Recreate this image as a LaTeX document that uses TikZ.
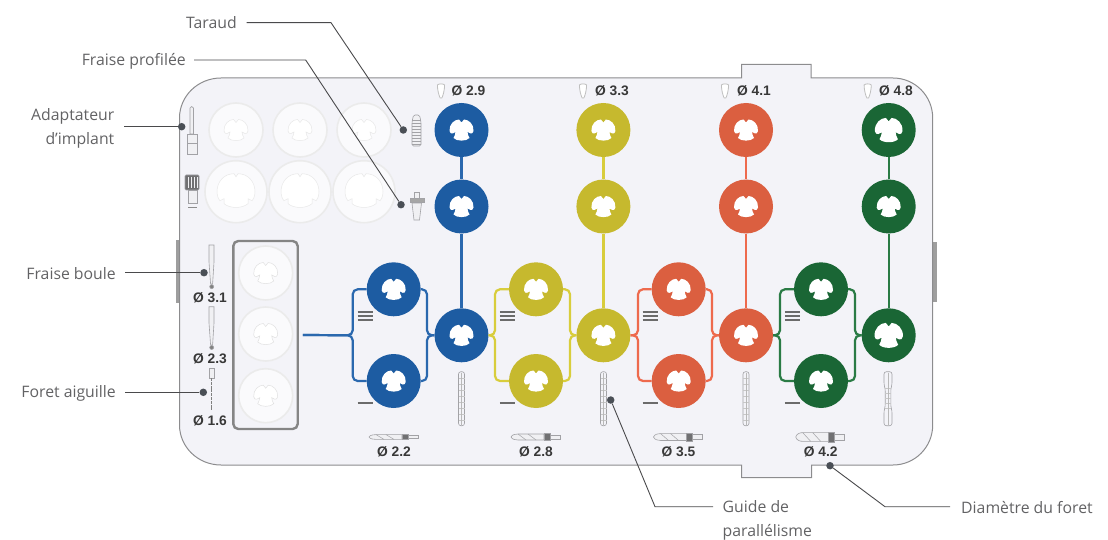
\documentclass[tikz,border=0pt]{standalone}
\usepackage{fontspec}
\setmainfont{Open Sans}
\newfontfamily\dimfont{Liberation Sans}[BoldFont={Liberation Sans Bold}]
\definecolor{trayfill}{HTML}{F3F3F8}
\definecolor{trayline}{HTML}{8C8C8E}
\definecolor{lblcol}{HTML}{626264}
\definecolor{leadcol}{HTML}{4A4A4C}
\definecolor{dotcol}{HTML}{4A4F56}
\definecolor{cblue}{HTML}{1D5CA2}
\definecolor{cyellow}{HTML}{C6B92E}
\definecolor{cred}{HTML}{DB5F40}
\definecolor{cgreen}{HTML}{1A6635}
\definecolor{wblue}{HTML}{2A68AE}
\definecolor{wyellow}{HTML}{D8CD3C}
\definecolor{wred}{HTML}{EE6A4D}
\definecolor{wgreen}{HTML}{2A7B45}
\definecolor{toolgray}{HTML}{A2A2A6}
\definecolor{tooldark}{HTML}{707072}
\definecolor{toolfill}{HTML}{F0F0F3}
\tikzset{
  hub/.style={circle,inner sep=0pt,minimum size=54pt,fill=#1},
  ghost/.style={circle,inner sep=0pt,minimum size=#1,fill=white!60!trayfill,draw=black!8,line width=1.6pt},
  ghost/.default=54pt,
  wire/.style={line width=2.2pt,rounded corners=5pt},
  lbl/.style={font=\fontsize{15.8}{23.5}\selectfont,text=lblcol,inner sep=0pt,align=right},
  dim/.style={font=\dimfont\bfseries\fontsize{13.8}{16}\selectfont,text=black!78,inner sep=0pt},
  lead/.style={draw=leadcol,line width=0.9pt},
  dot/.style={circle,fill=dotcol,inner sep=0pt,minimum size=7.5pt},
  tool/.style={draw=toolgray,fill=toolfill,line width=0.6pt},
  bar/.style={draw=black!58,line width=1.7pt},
  lobe/.pic={\path[pic actions] (0,-7.5) -- (-2.5,-10.5) .. controls (-7,-10.5) and (-12.5,-6) .. (-12,1)
    .. controls (-12,3) and (-10,4) .. (-9,3.5) -- (-6,2) .. controls (-6,4) and (-7,6) .. (-8,8)
    .. controls (-5,11.5) and (5,11.5) .. (8,8) .. controls (7,6) and (6,4) .. (6,2) -- (9,3.5)
    .. controls (10,4) and (12,3) .. (12,1) .. controls (12.5,-6) and (7,-10.5) .. (2.5,-10.5) -- cycle;},
  bigopen/.pic={\path[pic actions] (0,-15) -- (-2,-18) .. controls (-12,-18) and (-19,-10) .. (-19,0)
    .. controls (-19,5) and (-17,8) .. (-16,9) -- (-12,7) -- (-12,12)
    .. controls (-6,17) and (6,17) .. (12,12) -- (12,7) -- (16,9)
    .. controls (17,8) and (19,5) .. (19,0) .. controls (19,-10) and (12,-18) .. (2,-18) -- cycle;},
  tooth/.pic={\draw[draw=black!25,fill=white,line width=0.8pt] (-3.6,-6) .. controls (-2,-7.5) and (2,-7.5) .. (3.6,-6)
    .. controls (3.6,-1) and (2,5) .. (0.8,7) -- (-0.8,7) .. controls (-2,5) and (-3.6,-1) .. (-3.6,-6) -- cycle;},
  drill/.pic={
    \draw[tool] (-25,0) .. controls (-24,-2.6) and (-20,-3) .. (-18,-3) -- (8,-3) -- (8,3) -- (-18,3) .. controls (-20,3) and (-24,2.6) .. (-25,0) -- cycle;
    \draw[toolgray,line width=0.5pt] (-18,-3) -- (-10,3) (-8,-3) -- (0,3);
    \draw[tool,fill=tooldark] (8,-3.4) rectangle (14,3.4);
    \draw[tool] (14,-2) rectangle (24,2);},
  pin/.pic={
    \draw[tool,fill=trayfill,rounded corners=2.4pt] (-3,-27) rectangle (3,27);
    \foreach \q in {-20,-14,...,22} {\draw[black!22,line width=0.5pt] (-3,\q) -- (3,\q);}
    \draw[black!28,line width=0.5pt] (0,-26) -- (0,26);},
  widepin/.pic={
    \draw[tool,fill=trayfill,rounded corners=2.4pt] (-4,-27) -- (4,-27) -- (4,-14) -- (2.8,-10) -- (2.8,8) -- (4,12) -- (4,27) -- (-4,27) -- (-4,12) -- (-2.8,8) -- (-2.8,-10) -- (-4,-14) -- cycle;
    \foreach \q in {-10,-5,...,10} {\draw[black!22,line width=0.5pt] (-3,\q) -- (3,\q);}
    \draw[black!28,line width=0.5pt] (0,-26) -- (0,26);},
}
\newcommand\splitwires[7]{%
  \draw[wire,draw=#1] (#2.west) -| (#6,335.3) -- (#5);
  \draw[wire,draw=#1] (#3.west) -| (#6,335.3) -- (#5);
  \draw[wire,draw=#1] (#2.east) -| (#7,335.3) -- (#4.west);
  \draw[wire,draw=#1] (#3.east) -| (#7,335.3) -- (#4.west);}
\begin{document}
\begin{tikzpicture}[x=1pt,y=-1pt]
\useasboundingbox (0,0) rectangle (1108,540);
% handles
\path[fill=black!38] (175.5,240) rectangle (180,302.5);
\path[fill=black!38] (932,241.5) rectangle (937,302);
% tray
\draw[fill=trayfill,draw=trayline,line width=1pt]
  (221,78) -- (741.5,78) -- (741.5,64.3) -- (811,64.3) -- (811,78) -- (893,78)
  .. controls (915,78) and (932.7,96) .. (932.7,118) -- (932.7,425)
  .. controls (932.7,447) and (915,465) .. (893,465) -- (811.5,465) -- (811.5,477.7)
  -- (741.5,477.7) -- (741.5,465) -- (221,465)
  .. controls (198,465) and (179.5,447) .. (179.5,425) -- (179.5,118)
  .. controls (179.5,96) and (198,78) .. (221,78) -- cycle;
% ghost holders, upper block
\foreach \n/\px/\py/\sz in {ga/236/130/54pt,gb/300/130/54pt,gc/364/130/54pt,gd/236/191.7/62pt,ge/300/191.7/62pt,gf/364/191.7/62pt}
  \node[ghost=\sz] (\n) at (\px,\py) {};
\foreach \n in {ga,gb,gc} \pic[fill=white,draw=black!9,line width=0.5pt] at (\n) {lobe};
\foreach \n in {gd,ge,gf} \pic[fill=white,draw=black!9,line width=0.5pt] at (\n) {bigopen};
% boxed holders
\node[draw=black!48,line width=2.4pt,rounded corners=5pt,inner sep=0pt,minimum width=64.4pt,minimum height=188pt] (pilot) at (265.5,335) {};
\foreach \n/\py in {pa/273,pb/334,pc/395.7} {
  \node[ghost] (\n) at (265.7,\py) {};
  \pic[fill=white,draw=black!12,line width=0.5pt] at (\n) {lobe};
}
% coloured hubs
\foreach \s/\cx/\px/\col in {b/461.5/393.7/cblue,y/603.4/536/cyellow,r/746/678.7/cred,g/888.7/821/cgreen} {
  \node[hub=\col] (\s1) at (\cx,130) {};
  \node[hub=\col] (\s2) at (\cx,206.5) {};
  \node[hub=\col] (\s3) at (\cx,335.3) {};
  \node[hub=\col] (\s4) at (\px,289.3) {};
  \node[hub=\col] (\s5) at (\px,381) {};
}
% wires
\splitwires{wblue}{b4}{b5}{b3}{[xshift=4pt]pilot.east}{352.7}{427}
\splitwires{wyellow}{y4}{y5}{y3}{b3.east}{495}{570}
\splitwires{wred}{r4}{r5}{r3}{y3.east}{638}{712}
\splitwires{wgreen}{g4}{g5}{g3}{r3.east}{780}{855}
\foreach \s/\w in {b/wblue,y/wyellow,r/wred,g/wgreen}
  \draw[line width=2.2pt,draw=\w] (\s1) -- (\s2) -- (\s3);
% openings
\foreach \n in {b1,b2,b3,b4,b5,y1,y2,y3,y4,y5,r1,r2,r3,r4,r5,g2,g4,g5}
  \pic[fill=white] at (\n) {lobe};
\pic[fill=white,scale=1.15] at (g1) {lobe};
\pic[fill=white,scale=1.18] at (g3) {lobe};
% bars
\foreach \px in {365,507.3,650,792.3} {
  \draw[bar] (\px-7.5,312) -- (\px+7.5,312);
  \draw[bar] (\px-7.5,316) -- (\px+7.5,316);
  \draw[bar] (\px-7.5,320) -- (\px+7.5,320);
  \draw[bar] (\px-7.5,402.7) -- (\px+7.5,402.7);
}
% upper dimension labels
\foreach \n/\tx/\ix/\t in {dA/468.5/441/2.9,dB/612/583/3.3,dC/754/725/4.1,dD/896/867.7/4.8} {
  \node[dim] (\n) at (\tx,91) {Ø \t};
  \pic at (\ix,91) {tooth};
}
% lower dimension labels and drills
\foreach \n/\tx/\t/\ys in {dE/394/2.2/0.8,dF/536/2.8/1,dG/678.5/3.5/1.15,dH/820.7/4.2/1.45} {
  \node[dim] (\n) at (\tx,452) {Ø \t};
  \pic[yscale=\ys] at (\tx,437) {drill};
}
% pins
\pic at (461.5,398.7) {pin};
\pic at (603.5,398.7) {pin};
\pic at (746,398.7) {pin};
\pic at (888,398.7) {widepin};
% left column labels
\node[dim] (dI) at (210,298) {Ø 3.1};
\node[dim] (dJ) at (210,359) {Ø 2.3};
\node[dim] (dK) at (210,420.5) {Ø 1.6};
% tools: implant adapters
\draw[tool] (190,108) -- (191.7,106.5) -- (193.5,108) -- (193.5,134) -- (190,134) -- cycle;
\draw[tool] (187.5,134) rectangle (197.5,154);
\draw[toolgray,line width=0.6pt] (187.5,143) -- (197.5,143);
\draw[tool] (188,190) rectangle (197,203);
\draw[tool,fill=tooldark,rounded corners=1pt] (185,175) rectangle (199,190);
\foreach \q in {188,191,194,197} \draw[toolfill,line width=0.5pt] (\q,177) -- (\q,188);
\draw[draw=black!45,line width=1pt] (188,207.7) -- (197,207.7);
% tap
\draw[tool,rounded corners=1.5pt] (412,122) -- (413.5,115) -- (419.5,115) -- (421,122) -- (421,146) -- (412,146) -- cycle;
\foreach \q in {120,123,...,144} \draw[toolgray,line width=0.6pt] (412,\q) -- (421,\q);
% profile drill
\draw[tool] (414.5,192) rectangle (419,199);
\draw[tool] (412,203) -- (414,220) -- (419.5,220) -- (421.5,203) -- cycle;
\draw[tool,fill=black!35] (410,198.5) rectangle (424,202.5);
% ball drills
\draw[tool] (209,245) -- (214,245) -- (214,262) -- (212.6,284) -- (210.6,284) -- (209,262) -- cycle;
\draw[tool,fill=black!50] (211.7,286.7) circle (2pt);
\draw[tool] (209,306.7) -- (214,306.7) -- (214,323) -- (212.6,345) -- (210.6,345) -- (209,323) -- cycle;
\draw[tool,fill=black!50] (211.7,347.5) circle (2pt);
% needle drill
\draw[tool] (209,368.3) rectangle (214,378);
\draw[draw=black!50,line width=1.4pt,dash pattern=on 3pt off 0.8pt] (211.7,378) -- (211.7,410);
% leader anchors
\node[dot] (dotTar) at (403.3,130) {};
\node[dot] (dotPro) at (401,204.7) {};
\node[dot] (dotAda) at (181.7,126.7) {};
\node[dot] (dotBou) at (204,272.7) {};
\node[dot] (dotAig) at (203.3,392.3) {};
\node[dot] (dotGui) at (610.7,400) {};
\node[dot] (dotDia) at (830,465.7) {};
\coordinate (cTarA) at (246.7,22.7); \coordinate (cTarB) at (331,22.7);
\coordinate (cProA) at (194,60); \coordinate (cProB) at (305.7,60);
\coordinate (cAda) at (124.3,126.7);
\coordinate (cBou) at (125,272.7);
\coordinate (cAig) at (125,392.3);
\coordinate (cGuiA) at (713,506.7); \coordinate (cGuiB) at (655,506.7);
\coordinate (cDiaA) at (950,506.7); \coordinate (cDiaB) at (885,506.7);
\draw[lead] (cTarA) -- (cTarB) -- (dotTar);
\draw[lead] (cProA) -- (cProB) -- (dotPro);
\draw[lead] (cAda) -- (dotAda);
\draw[lead] (cBou) -- (dotBou);
\draw[lead] (cAig) -- (dotAig);
\draw[lead] (cGuiA) -- (cGuiB) -- (dotGui);
\draw[lead] (cDiaA) -- (cDiaB) -- (dotDia);
% callout labels
\node[lbl,anchor=east] (lTar) at (237,23) {Taraud};
\node[lbl,anchor=east] (lPro) at (186,61) {Fraise profilée};
\node[lbl,anchor=east] (lAda) at (114.5,128.5) {Adaptateur\\d’implant};
\node[lbl,anchor=east] (lBou) at (116,273.5) {Fraise boule};
\node[lbl,anchor=east] (lAig) at (116,393.5) {Foret aiguille};
\node[lbl,anchor=west,align=left] (lGui) at (722.5,520.5) {Guide de\\parallélisme};
\node[lbl,anchor=west] (lDia) at (961,508) {Diamètre du foret};
\end{tikzpicture}
\end{document}
